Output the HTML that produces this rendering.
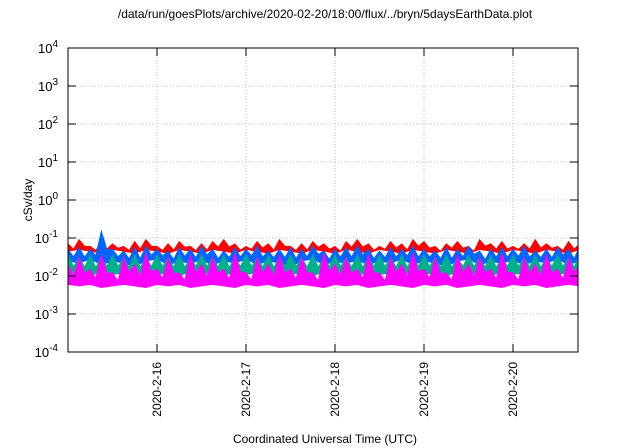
<!DOCTYPE html>
<html><head><meta charset="utf-8"><style>
body{margin:0;background:#fff;}
svg{display:block;font-family:"Liberation Sans",sans-serif;}
</style></head><body>
<svg id="chart" width="640" height="448">
<defs><clipPath id="pc"><rect x="68" y="48" width="510" height="304"/></clipPath></defs>
<text x="325" y="18" text-anchor="middle" font-size="12" fill="#000">/data/run/goesPlots/archive/2020-02-20/18:00/flux/../bryn/5daysEarthData.plot</text>
<text x="0" y="0" transform="translate(32,200) rotate(-90)" text-anchor="middle" font-size="12">cSv/day</text>
<text x="325" y="443" text-anchor="middle" font-size="12">Coordinated Universal Time (UTC)</text>
<g id="grid"></g><g id="series" clip-path="url(#pc)"></g><g id="axes"></g>
</svg>
<script>
const yExps=[-4,-3,-2,-1,0,1,2,3,4];
const xTickDays=[16,17,18,19,20];
const xTickLabels=["2020-2-16","2020-2-17","2020-2-18","2020-2-19","2020-2-20"];
const seriesColors=["#ff0000","#0066ff","#00b08a","#ff00ff"];
const redHi=[0.07,0.09,0.06,0.08,0.07,0.06,0.08,0.09,0.06,0.07,0.08,0.06,0.07,0.08,0.09,0.07,0.06,0.08,0.07,0.09,0.06,0.07,0.08,0.07,0.06,0.08,0.09,0.07,0.06,0.08,0.07,0.09,0.08,0.06,0.07,0.08,0.06,0.09,0.07,0.08,0.06,0.07,0.09,0.07,0.06,0.08,0.07];
const redLo=[0.045,0.05,0.045,0.04,0.05,0.045,0.04,0.05,0.045,0.04,0.05,0.045,0.04,0.05,0.045,0.04,0.05,0.045,0.04,0.05,0.045,0.04,0.05,0.045,0.04,0.05,0.045,0.04,0.05,0.045,0.04,0.05,0.045,0.04,0.05,0.045,0.04,0.05,0.045,0.04,0.05,0.045,0.04,0.05,0.045,0.04,0.05];
const blueHi=[0.05,0.055,0.05,0.15,0.05,0.045,0.055,0.06,0.05,0.045,0.055,0.05,0.06,0.05,0.045,0.055,0.05,0.06,0.045,0.05,0.055,0.05,0.06,0.045,0.05,0.055,0.06,0.05,0.045,0.055,0.05,0.06,0.05,0.045,0.055,0.05,0.06,0.045,0.05,0.055,0.05,0.06,0.045,0.05,0.055,0.05,0.06];
const blueLo=[0.025,0.022,0.028,0.02,0.025,0.022,0.018,0.025,0.028,0.02,0.024,0.022,0.026,0.02,0.025,0.022,0.028,0.02,0.025,0.022,0.018,0.025,0.028,0.02,0.024,0.022,0.026,0.02,0.025,0.022,0.028,0.02,0.025,0.022,0.018,0.025,0.028,0.02,0.024,0.022,0.026,0.02,0.025,0.022,0.028,0.02,0.025];
const tealHi=[0.035,0.03,0.035,0.03,0.035,0.03,0.035,0.03,0.035,0.03,0.035,0.03,0.035,0.03,0.035,0.03,0.035,0.03,0.035,0.03,0.035,0.03,0.035,0.03,0.035,0.03,0.035,0.03,0.035,0.03,0.035,0.03,0.035,0.03,0.035,0.03,0.035,0.03,0.035,0.03,0.035,0.03,0.035,0.03,0.035,0.03,0.035];
const tealLo=[0.011,0.012,0.01,0.013,0.011,0.012,0.01,0.013,0.011,0.012,0.01,0.013,0.011,0.012,0.01,0.013,0.011,0.012,0.01,0.013,0.011,0.012,0.01,0.013,0.011,0.012,0.01,0.013,0.011,0.012,0.01,0.013,0.011,0.012,0.01,0.013,0.011,0.012,0.01,0.013,0.011,0.012,0.01,0.013,0.011,0.012,0.01];
const magHi=[0.02,0.03,0.015,0.035,0.012,0.03,0.02,0.04,0.015,0.03,0.012,0.035,0.02,0.03,0.015,0.04,0.012,0.03,0.02,0.035,0.015,0.03,0.012,0.04,0.02,0.03,0.015,0.035,0.012,0.03,0.02,0.04,0.015,0.03,0.012,0.035,0.02,0.03,0.015,0.04,0.012,0.03,0.02,0.035,0.015,0.03,0.02];
const magLo=[0.006,0.0055,0.006,0.005,0.0055,0.006,0.0055,0.005,0.006,0.0055,0.006,0.005,0.0055,0.006,0.0055,0.005,0.006,0.0055,0.006,0.005,0.0055,0.006,0.0055,0.005,0.006,0.0055,0.006,0.005,0.0055,0.006,0.0055,0.005,0.006,0.0055,0.006,0.005,0.0055,0.006,0.0055,0.005,0.006,0.0055,0.006,0.005,0.0055,0.006,0.0055];
const startDay=15, stepDay=0.125;
const L=68,R=578,T=48,B=352;
const xPx=d=>L+(d-15)*89;
const yPx=v=>B-(Math.log10(v)+4)*38;
const NS="http://www.w3.org/2000/svg";
function mk(tag,parent){const e=document.createElementNS(NS,tag);document.getElementById(parent).appendChild(e);return e;}
yExps.forEach(e=>{
  const y=yPx(Math.pow(10,e));
  if(e>-4&&e<4){const g=mk('line','grid');
    
    
    g.setAttribute('x1',L);g.setAttribute('x2',R);g.setAttribute('y1',y);g.setAttribute('y2',y);g.setAttribute('stroke','#bbb');g.setAttribute('stroke-dasharray','1,2');}
  const t=mk('text','axes');
  
  
  t.setAttribute('x',58);t.setAttribute('y',y+5);t.setAttribute('text-anchor','end');t.setAttribute('font-size','13');
  t.innerHTML='10<tspan dy="-6" font-size="10">'+e+'</tspan>';
  [[L,L+8],[R-8,R]].forEach(p=>{const k=mk('line','axes');
    
    
    k.setAttribute('x1',p[0]);k.setAttribute('x2',p[1]);k.setAttribute('y1',y);k.setAttribute('y2',y);k.setAttribute('stroke','#000');});
});
xTickDays.forEach((d,i)=>{
  const x=xPx(d);
  const g=mk('line','grid');
  
  
  g.setAttribute('x1',x);g.setAttribute('x2',x);g.setAttribute('y1',T);g.setAttribute('y2',B);g.setAttribute('stroke','#bbb');g.setAttribute('stroke-dasharray','1,2');
  [[B-8,B],[T,T+8]].forEach(p=>{const k=mk('line','axes');
    
    
    k.setAttribute('x1',x);k.setAttribute('x2',x);k.setAttribute('y1',p[0]);k.setAttribute('y2',p[1]);k.setAttribute('stroke','#000');});
  const t=mk('text','axes');
  
  
  t.setAttribute('transform','translate('+(x+4)+',362) rotate(-90)');t.setAttribute('text-anchor','end');t.setAttribute('font-size','12');
  t.textContent=xTickLabels[i];
});
const bands=[[redHi,redLo],[blueHi,blueLo],[tealHi,tealLo],[magHi,magLo]];
const names=['series-red','series-blue','series-teal','series-magenta'];
bands.forEach((b,si)=>{
  const hi=b[0],lo=b[1];let top=[],bot=[];
  hi.forEach((v,i)=>{const d=startDay+i*stepDay;
    top.push(xPx(d)+','+yPx(v));
    top.push(xPx(d+stepDay/2)+','+yPx(Math.sqrt(v*lo[i])*0.9>lo[i]?Math.sqrt(v*lo[i])*0.9:lo[i]));
    bot.unshift(xPx(d)+','+yPx(lo[i]));});
  const p=mk('polygon','series');
  
  
  p.setAttribute('points',top.concat(bot).join(' '));p.setAttribute('fill',seriesColors[si]);p.setAttribute('stroke',seriesColors[si]);p.setAttribute('stroke-width','1');
});
const fr=mk('rect','axes');


fr.setAttribute('x',L);fr.setAttribute('y',T);fr.setAttribute('width',R-L);fr.setAttribute('height',B-T);fr.setAttribute('fill','none');fr.setAttribute('stroke','#000');
</script>
</body></html>
